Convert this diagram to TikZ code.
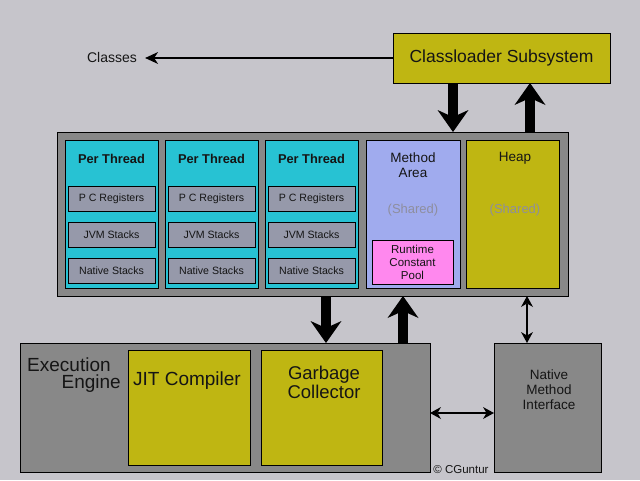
\documentclass[tikz,border=0pt]{standalone}
\usepackage{fontspec}
\setmainfont{Liberation Sans}
\usetikzlibrary{arrows.meta}

\definecolor{bgc}{HTML}{C6C5CB}
\definecolor{rtgray}{HTML}{888888}
\definecolor{threadc}{HTML}{27C2D3}
\definecolor{stackc}{HTML}{9699AA}
\definecolor{methodc}{HTML}{A0ABEE}
\definecolor{poolc}{HTML}{FF88EE}
\definecolor{olivec}{HTML}{BFB612}
\definecolor{sharedc}{HTML}{8E8E9E}
\definecolor{inkc}{HTML}{151515}

\begin{document}
\begin{tikzpicture}[x=1pt,y=-1pt,
  box/.style={draw=black,line width=1pt,outer sep=0pt,inner sep=0pt,text=inkc},
  stackbox/.style={box,fill=stackc,minimum width=87pt,minimum height=25pt,
    font=\fontsize{10.6}{12}\selectfont},
  bigarrow/.style={line width=9.5pt,-{Stealth[length=22pt,width=31pt,inset=7pt,line width=0pt]}},
  thinarrow/.style={line width=2.5pt,{Stealth[length=11pt,width=12pt,inset=3.5pt,line width=0pt]}-{Stealth[length=11pt,width=12pt,inset=3.5pt,line width=0pt]}},
  lbl/.style={inner sep=0pt,text=inkc}]
  \fill[bgc] (0,0) rectangle (640,480);
  \useasboundingbox (0,0) rectangle (640,480);

  % class loader
  \node[box,fill=olivec,minimum width=217pt,minimum height=50pt,
    font=\fontsize{17.5}{20}\selectfont] (cls) at (501.5,58) {Classloader Subsystem};
  \node[lbl,font=\fontsize{14}{16}\selectfont] (classes) at (112,57) {Classes};
  \draw[line width=2.6pt,-{Stealth[length=13pt,width=12pt,inset=4pt,line width=0pt]}]
    (cls.west) -- ([xshift=8pt]cls.west -| classes.east);

  % runtime data areas
  \node[box,fill=rtgray,minimum width=511pt,minimum height=164pt] (rt) at (312.5,214) {};
  \foreach \x/\n in {111.5/a,211.5/b,311.5/c} {
    \node[box,fill=threadc,minimum width=93pt,minimum height=148pt] (pt\n) at (\x,214) {};
    \node[lbl,font=\bfseries\fontsize{12.8}{15}\selectfont] (ptl\n) at (\x,159) {Per Thread};
    \node[stackbox] (pc\n) at (\x,198.5) {P C Registers};
    \node[stackbox] (jvm\n) at (\x,234.5) {JVM Stacks};
    \node[stackbox] (nat\n) at (\x,270.5) {Native Stacks};
  }
  \node[box,fill=methodc,minimum width=94pt,minimum height=148pt] (mth) at (413,214) {};
  \node[lbl,align=center,font=\fontsize{13.5}{15}\selectfont] (mthl) at (413,165) {Method\\Area};
  \node[lbl,text=sharedc,font=\fontsize{13}{15}\selectfont] (mths) at (413,210) {(Shared)};
  \node[box,fill=poolc,minimum width=81pt,minimum height=44pt,align=center,
    font=\fontsize{11.5}{13}\selectfont] (pool) at (412.5,262) {Runtime\\Constant\\Pool};
  \node[box,fill=olivec,minimum width=93pt,minimum height=148pt] (heap) at (512.5,214) {};
  \node[lbl,font=\fontsize{13.5}{15}\selectfont] (heapl) at (515,158) {Heap};
  \node[lbl,text=sharedc,font=\fontsize{13}{15}\selectfont] (heaps) at (515,210) {(Shared)};

  % execution engine
  \node[box,fill=rtgray,minimum width=410pt,minimum height=129pt] (ee) at (225,407.5) {};
  \node[lbl,anchor=west,font=\fontsize{19}{21}\selectfont] (eel1) at (27,365) {Execution};
  \node[lbl,anchor=east,font=\fontsize{19}{21}\selectfont] (eel2) at (121,384) {Engine};
  \node[box,fill=olivec,minimum width=122pt,minimum height=115pt] (jit) at (189,407.5) {};
  \node[lbl,font=\fontsize{19}{21}\selectfont] (jitl) at (187,381) {JIT Compiler};
  \node[box,fill=olivec,minimum width=121pt,minimum height=115pt] (gc) at (321.5,407.5) {};
  \node[lbl,align=center,font=\fontsize{18.5}{19.5}\selectfont] (gcl) at (324,382.5) {Garbage\\Collector};

  % native method interface
  \node[box,fill=rtgray,minimum width=107pt,minimum height=129pt] (nmi) at (547.5,407.5) {};
  \node[lbl,align=center,font=\fontsize{13.5}{15}\selectfont] (nmil) at (549,390) {Native\\Method\\Interface};
  \node[lbl,font=\fontsize{11.5}{13}\selectfont] (copy) at (461,470) {\textcopyright\ CGuntur};

  % connectors
  \draw[bigarrow] ([xshift=-48.5pt]cls.south) -- ([xshift=-48.5pt]cls.south |- rt.north);
  \draw[bigarrow] ([xshift=28.5pt]cls.south |- rt.north) -- ([xshift=28.5pt]cls.south);
  \draw[bigarrow] ([xshift=13.5pt]rt.south) -- ([xshift=13.5pt]rt.south |- ee.north);
  \draw[bigarrow] ([xshift=90.5pt]rt.south |- ee.north) -- ([xshift=90.5pt]rt.south);
  \draw[thinarrow] ([xshift=-20.5pt]nmi.north |- rt.south) -- ([xshift=-20.5pt]nmi.north);
  \draw[thinarrow] ([yshift=-5.5pt]ee.east) -- ([yshift=-5.5pt]nmi.west);
\end{tikzpicture}
\end{document}
